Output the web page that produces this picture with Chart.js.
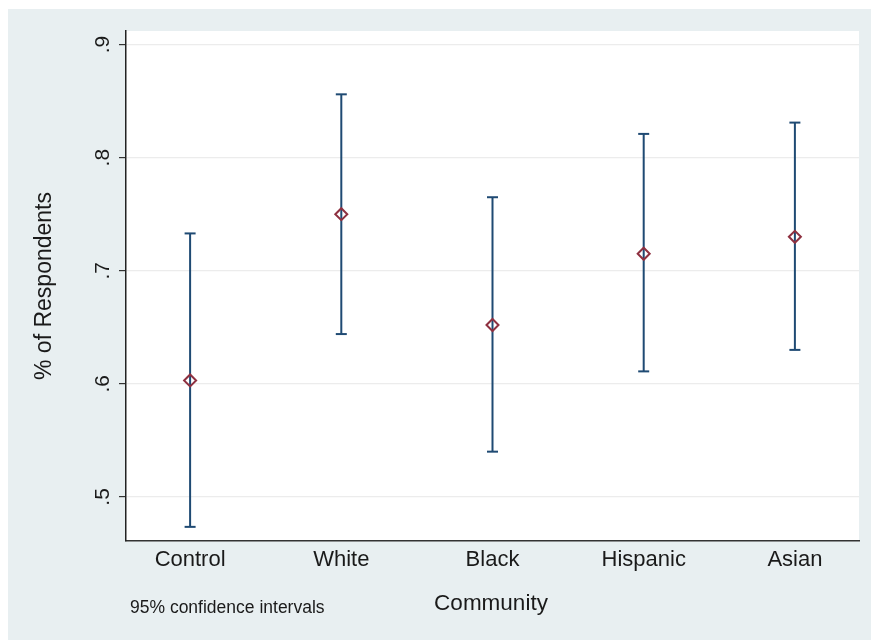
<!DOCTYPE html>
<html>
<head>
<meta charset="utf-8">
<script src="https://cdn.jsdelivr.net/npm/chart.js@4/dist/chart.umd.min.js"></script>
<style>
  html, body { margin: 0; padding: 0; background: #ffffff; }
  #wrap { width: 871px; height: 640px; position: relative; }
</style>
</head>
<body>
<div id="wrap"><canvas id="c" width="871" height="640"></canvas></div>
<script>
const categories = ['Control', 'White', 'Black', 'Hispanic', 'Asian'];
const means = [0.603, 0.750, 0.652, 0.715, 0.730];
const lowerCI = [0.4735, 0.644, 0.540, 0.611, 0.630];
const upperCI = [0.733, 0.856, 0.765, 0.821, 0.831];
const yTicks = [0.5, 0.6, 0.7, 0.8, 0.9];
const xTitle = 'Community';
const yTitle = '% of Respondents';
const noteText = '95% confidence intervals';

const FONT = '"Liberation Sans", Arial, sans-serif';
const BG = '#e8eff1';

// whisker data: pairs separated by gaps
const whiskerData = [];
categories.forEach((c, i) => {
  whiskerData.push({x: i, y: lowerCI[i]});
  whiskerData.push({x: i, y: upperCI[i]});
  whiskerData.push({x: i + 0.5, y: null});
});
const pointData = categories.map((c, i) => ({x: i, y: means[i]}));

const bgPlugin = {
  id: 'bgPlugin',
  beforeDraw(chart) {
    const ctx = chart.ctx;
    const a = chart.chartArea;
    ctx.save();
    ctx.fillStyle = '#ffffff';
    ctx.fillRect(0, 0, chart.width, chart.height);
    ctx.fillStyle = BG;
    ctx.fillRect(8, 9, chart.width - 8, chart.height - 9);
    ctx.fillStyle = '#ffffff';
    ctx.fillRect(a.left, a.top, a.right - a.left, a.bottom - a.top);
    ctx.restore();
  },
  afterDraw(chart) {
    const ctx = chart.ctx;
    ctx.save();
    ctx.fillStyle = '#1a1a1a';
    ctx.font = '22.5px ' + FONT;
    ctx.textAlign = 'center';
    ctx.textBaseline = 'middle';
    ctx.fillText(xTitle, 491, 604);
    ctx.save();
    ctx.translate(45, 286);
    ctx.rotate(-Math.PI / 2);
    ctx.font = '23px ' + FONT;
    ctx.fillText(yTitle, 0, 0);
    ctx.restore();
    ctx.font = '17.5px ' + FONT;
    ctx.textAlign = 'left';
    ctx.fillText(noteText, 130, 608);
    ctx.restore();
  }
};

new Chart(document.getElementById('c'), {
  data: {
    datasets: [
      {
        type: 'line',
        data: whiskerData,
        borderColor: '#1f4a73',
        borderWidth: 2,
        showLine: true,
        spanGaps: false,
        pointStyle: 'line',
        pointRadius: 5.5,
        pointBorderWidth: 2,
        pointBorderColor: '#1f4a73',
        pointHoverRadius: 5.5,
        order: 2
      },
      {
        type: 'scatter',
        data: pointData,
        pointStyle: 'rectRot',
        pointRadius: 6,
        pointBorderWidth: 2,
        borderColor: '#8e3040',
        backgroundColor: 'rgba(0,0,0,0)',
        order: 1
      }
    ]
  },
  options: {
    responsive: false,
    animation: false,
    events: [],
    layout: { padding: { top: 31, right: 12, left: 0, bottom: 0 } },
    plugins: { legend: { display: false }, tooltip: { enabled: false } },
    scales: {
      x: {
        type: 'linear',
        min: -0.424,
        max: 4.424,
        afterFit(s) { s.height = 99; },
        afterBuildTicks(s) { s.ticks = categories.map((c, i) => ({value: i})); },
        grid: { display: false, drawTicks: false },
        border: { display: true, color: '#333333', width: 1.5 },
        ticks: {
          padding: 6,
          color: '#1a1a1a',
          font: { family: FONT, size: 22 },
          maxRotation: 0,
          autoSkip: false,
          callback: (v) => categories[v]
        }
      },
      y: {
        type: 'linear',
        min: 0.461,
        max: 0.912,
        afterFit(s) { s.width = 126; },
        afterBuildTicks(s) { s.ticks = yTicks.map(v => ({value: v})); },
        grid: { color: '#ececec', lineWidth: 1.2, drawTicks: true, tickLength: 7, tickColor: '#333333' },
        border: { display: true, color: '#222222', width: 1.5 },
        ticks: {
          padding: 7,
          minRotation: 90,
          maxRotation: 90,
          crossAlign: 'center',
          color: '#1a1a1a',
          font: { family: FONT, size: 21 },
          callback: (v) => String(v.toFixed(1)).replace(/^0/, '')
        }
      }
    }
  },
  plugins: [bgPlugin]
});
</script>
</body>
</html>
